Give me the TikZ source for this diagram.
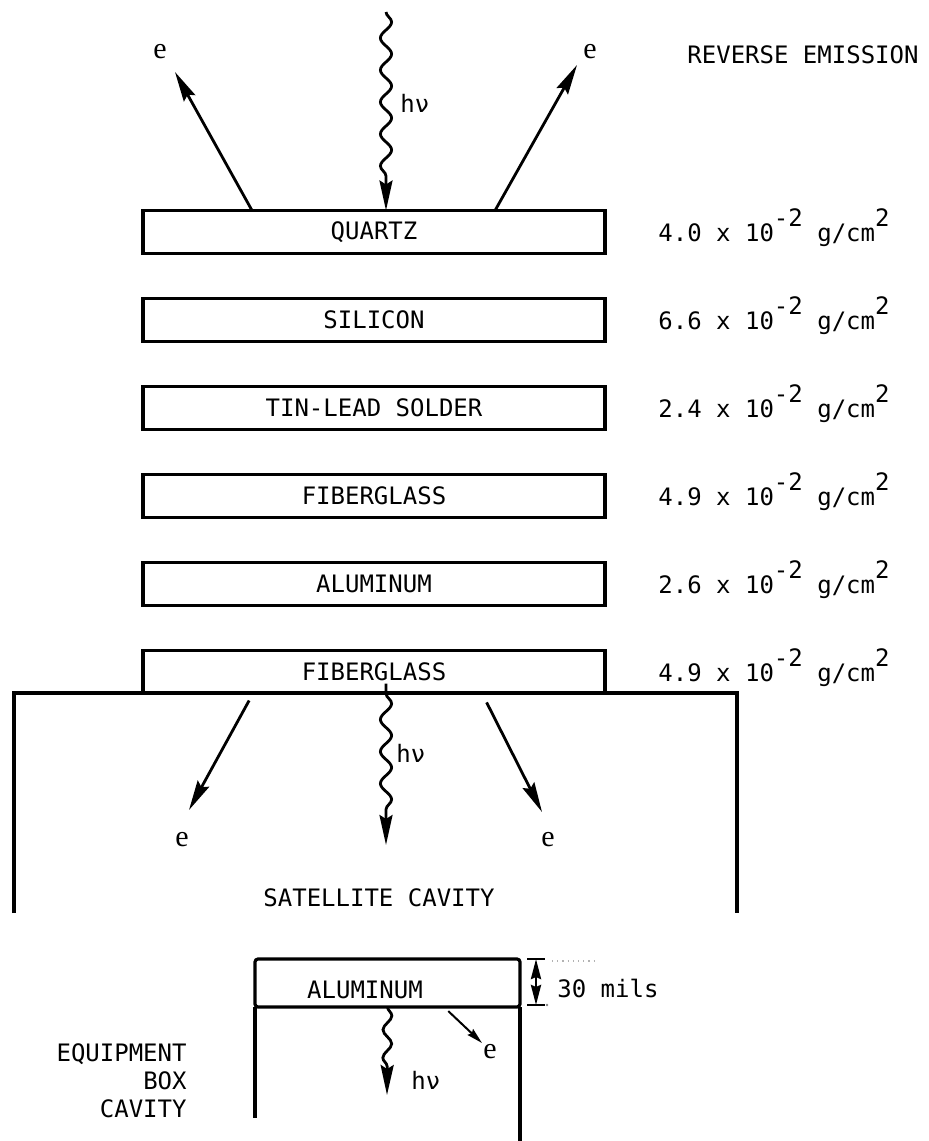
\documentclass[tikz,border=0pt]{standalone}
\usepackage{fontspec}
\setmainfont{DejaVu Sans Mono}
\newfontfamily\efont{Liberation Serif}
\usetikzlibrary{arrows.meta}
\usetikzlibrary{calc}
\usetikzlibrary{decorations.pathmorphing}
\newcommand{\upr}[1]{\raisebox{7.5pt}{#1}}

\begin{document}
\begin{tikzpicture}[x=0.5pt, y=-0.5pt,
    layer/.style={draw, line width=1.6pt, minimum width=231pt, minimum height=21.5pt, inner sep=0pt, outer sep=0pt, font=\fontsize{12}{14}\selectfont},
    txt/.style={inner sep=0pt, font=\fontsize{12}{14}\selectfont},
    etxt/.style={inner sep=0pt, font=\efont\fontsize{15}{17}\selectfont},
    wall/.style={line width=1.6pt},
    elec/.style={line width=1.4pt, -{Stealth[length=15pt, width=6.5pt, inset=2pt]}},
    photon/.style={line width=1.4pt, -{Stealth[length=15pt, width=6.5pt, inset=2pt]}, decorate,
      decoration={snake, amplitude=2.8pt, segment length=16pt, post length=14pt}}]
  \useasboundingbox (0,0) rectangle (928,1141);
  \foreach \nm/\lbl/\y/\val in {quartz/QUARTZ/232/4.0, silicon/SILICON/320/6.6,
      solder/TIN-LEAD SOLDER/408/2.4, glassA/FIBERGLASS/496/4.9,
      alum/ALUMINUM/584/2.6, glassB/FIBERGLASS/672/4.9} {
    \node[layer] (\nm) at (374,\y) {\lbl};
    \node[txt, anchor=base west] (d\nm) at (658,\y+9) {\val{} x 10\upr{-2} g/cm\upr{2}};
  }

  \node[txt] (rev) at (803,55) {REVERSE EMISSION};
  \node[etxt] (eTL) at (160,52) {e};
  \node[etxt] (eTR) at (590,52) {e};
  \coordinate (src) at (386,12);
  \coordinate (tTL) at (175,72);
  \coordinate (tTR) at (577,65);
  \draw[photon] (src) -- (src |- quartz.north);
  \node[txt, anchor=west] (hvA) at (400,103) {hν};
  \draw[elec] ($(quartz.north west)!0.236!(quartz.north east)$) -- (tTL);
  \draw[elec] ($(quartz.north west)!0.762!(quartz.north east)$) -- (tTR);

  \draw[wall] (14,913) -- (14,693) -- (737,693) -- (737,913);
  \coordinate (tBL) at (189,810);
  \coordinate (tBR) at (542,812);
  \coordinate (tBM) at (386,845);
  \draw[elec, shorten <=4pt] ($(glassB.south west)!0.238!(glassB.south east)$) -- (tBL);
  \draw[elec, shorten <=5pt] ($(glassB.south west)!0.734!(glassB.south east)$) -- (tBR);
  \draw[photon, shorten <=5pt] (tBM |- glassB.south) -- (tBM);
  \node[txt, anchor=west] (hvB) at (396,753) {hν};
  \node[etxt] (eBL) at (182,840) {e};
  \node[etxt] (eBR) at (548,840) {e};
  \node[txt] (sat) at (379,898) {SATELLITE CAVITY};

  \node[draw, line width=1.6pt, minimum width=132.5pt, minimum height=24pt, inner sep=0pt, outer sep=0pt, rounded corners=1.5pt] (plate) at (387.5,983) {};
  \node[txt] (alum2) at (365,990) {ALUMINUM};
  \draw[wall] (plate.south west) -- (255,1118);
  \draw[wall] (plate.south east) -- (520,1141);
  \coordinate (tBox) at (387,1095);
  \draw[photon, decoration={snake, amplitude=2.2pt, segment length=14pt, post length=14pt}] (plate.south) -- (tBox);
  \node[txt, anchor=west] (hvC) at (411,1080) {hν};
  \coordinate (tSm) at (482,1043);
  \draw[line width=1pt, -{Stealth[length=8pt, width=4pt, inset=1pt]}, shorten <=3pt] ($(plate.south west)!0.713!(plate.south east)$) -- (tSm);
  \node[etxt] (eSm) at (490,1052) {e};
  \node[txt, align=right, anchor=east] (equip) at (187,1081) {EQUIPMENT\\BOX\\CAVITY};

  \coordinate (dimT) at (536,959);
  \coordinate (dimB) at (536,1005);
  \draw[line width=1.4pt, {Stealth[length=10pt, width=5pt, inset=1pt]}-{Stealth[length=10pt, width=5pt, inset=1pt]}] (dimT) -- (dimB);
  \draw[line width=1.4pt] (527,959) -- (545,959);
  \draw[line width=1.4pt] (527,1005) -- (545,1005);
  \draw[gray!60, dotted, line width=0.6pt] (552,961) -- (595,961);
  \fill[gray] (547,1005) circle (0.7pt);
  \node[txt, anchor=west] (mils) at (557,988) {30 mils};
\end{tikzpicture}
\end{document}
